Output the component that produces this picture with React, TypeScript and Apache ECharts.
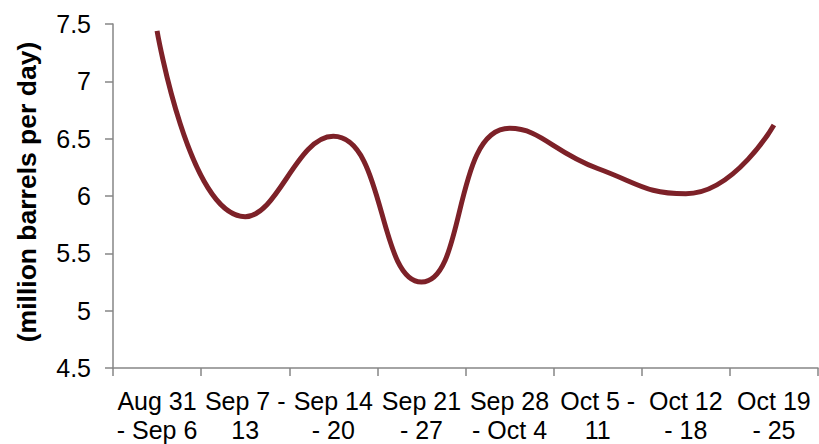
import React, { useEffect, useRef } from "react";
import * as echarts from "echarts";

const categories = [
  "Aug 31\n- Sep 6",
  "Sep 7 -\n13",
  "Sep 14\n- 20",
  "Sep 21\n- 27",
  "Sep 28\n- Oct 4",
  "Oct 5 -\n11",
  "Oct 12\n- 18",
  "Oct 19\n- 25",
];
const values = [7.44, 5.82, 6.52, 5.25, 6.59, 6.24, 6.02, 6.62];
const yAxisTitle = "(million barrels per day)";

export default function App() {
  const ref = useRef<HTMLDivElement>(null);
  useEffect(() => {
    if (!ref.current) return;
    const chart = echarts.init(ref.current, undefined, { renderer: "svg" });
    const font = "'Liberation Sans', Arial, sans-serif";
    chart.setOption({
      animation: false,
      backgroundColor: "#ffffff",
      grid: { left: 113, right: 1, top: 24, bottom: 75, containLabel: false },
      graphic: [
        {
          type: "text",
          x: 27,
          y: 192,
          rotation: Math.PI / 2,
          style: {
            text: yAxisTitle,
            fontFamily: font,
            fontSize: 26.5,
            fontWeight: "bold",
            fill: "#000",
            textAlign: "center",
            textVerticalAlign: "middle",
          },
        },
      ],
      xAxis: {
        type: "category",
        data: categories,
        boundaryGap: true,
        axisLine: { show: true, lineStyle: { color: "#868686", width: 1.5 } },
        axisTick: { show: true, length: 8, alignWithLabel: false, lineStyle: { color: "#868686", width: 1.5 } },
        axisLabel: {
          interval: 0,
          margin: 18,
          color: "#000",
          fontFamily: font,
          fontSize: 25,
          lineHeight: 29,
        },
        splitLine: { show: false },
      },
      yAxis: {
        type: "value",
        min: 4.5,
        max: 7.5,
        interval: 0.5,
        axisLine: { show: true, lineStyle: { color: "#868686", width: 1.5 } },
        axisTick: { show: true, length: 8, lineStyle: { color: "#868686", width: 1.5 } },
        axisLabel: {
          margin: 22,
          color: "#000",
          fontFamily: font,
          fontSize: 25,
        },
        splitLine: { show: false },
      },
      series: [
        {
          type: "line",
          data: values,
          smooth: 0.5,
          symbol: "none",
          lineStyle: { color: "#7D2128", width: 5 },
        },
      ],
    });
    return () => chart.dispose();
  }, []);
  return <div ref={ref} style={{ width: 819, height: 444, position: "absolute", left: 0, top: 0 }} />;
}
